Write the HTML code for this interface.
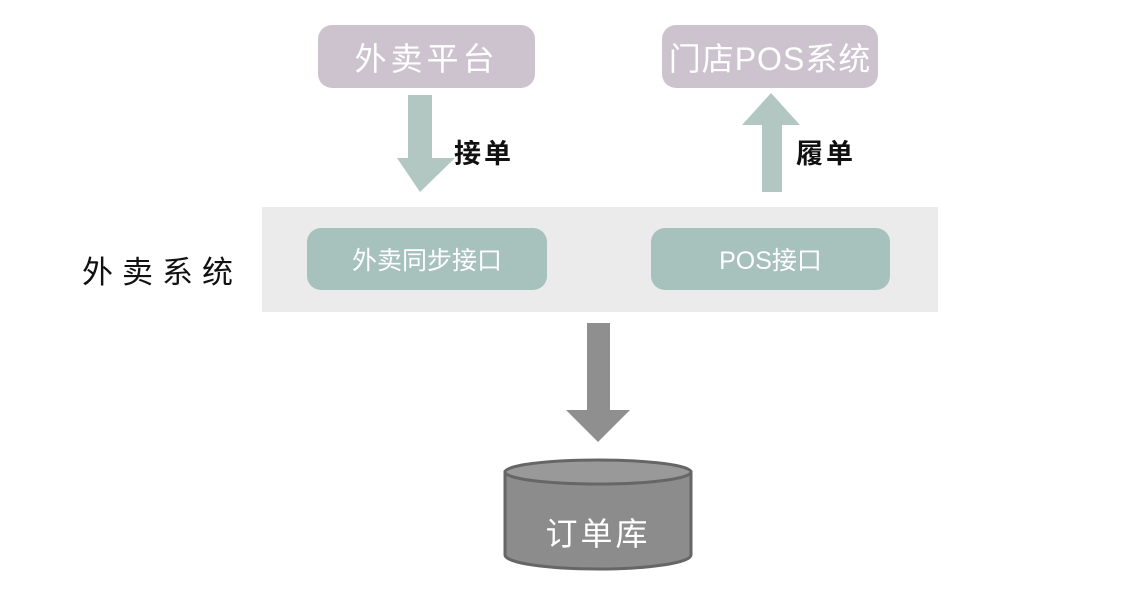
<!DOCTYPE html>
<html><head><meta charset="utf-8"><style>
body{margin:0;width:1142px;height:600px;background:#fff;position:relative;overflow:hidden;font-family:"Liberation Sans","Noto Sans CJK SC",sans-serif}
.b{position:absolute;border-radius:14px;color:#fff;display:flex;align-items:center;justify-content:center}
.t{position:absolute;color:#111}
</style></head><body>
<div class="b" style="left:318px;top:25px;width:217px;height:63px;background:#cdc3cf;font-size:32px;letter-spacing:4px">外卖平台</div>
<div class="b" style="left:662px;top:25px;width:216px;height:63px;background:#cdc3cf;font-size:32px;letter-spacing:1px">门店POS系统</div>
<div style="position:absolute;left:262px;top:207px;width:676px;height:105px;background:#ebebeb"></div>
<div class="b" style="left:307px;top:228px;width:240px;height:62px;background:#a7c1bd;font-size:25px">外卖同步接口</div>
<div class="b" style="left:651px;top:228px;width:239px;height:62px;background:#a7c1bd;font-size:25px">POS接口</div>
<div class="t" style="left:82px;top:247px;font-size:31px;letter-spacing:9px">外卖系统</div>
<div class="t" style="left:454px;top:132px;font-size:27px;font-weight:bold;letter-spacing:3px">接单</div>
<div class="t" style="left:796px;top:132px;font-size:27px;font-weight:bold;letter-spacing:3px">履单</div>
<svg width="1142" height="600" style="position:absolute;left:0;top:0">
<polygon points="408,95 432,95 432,158 455,158 420,192 397,158 408,158" fill="#b2c6c2"/>
<polygon points="762,192 782,192 782,125 800,125 771,93 742,125 762,125" fill="#b2c6c2"/>
<polygon points="587,323 610,323 610,410 630,410 598,442 566,410 587,410" fill="#8f8f8f"/>
<path d="M505,472 L505,555 A93,14 0 0 0 691,555 L691,472 Z" fill="#8c8c8c" stroke="#666" stroke-width="3"/>
<ellipse cx="598" cy="472" rx="93" ry="12" fill="#999" stroke="#666" stroke-width="3"/>
<text x="598" y="545" text-anchor="middle" fill="#fff" font-size="32" font-family="Liberation Sans,Noto Sans CJK SC,sans-serif" letter-spacing="3">订单库</text>
</svg>
</body></html>
